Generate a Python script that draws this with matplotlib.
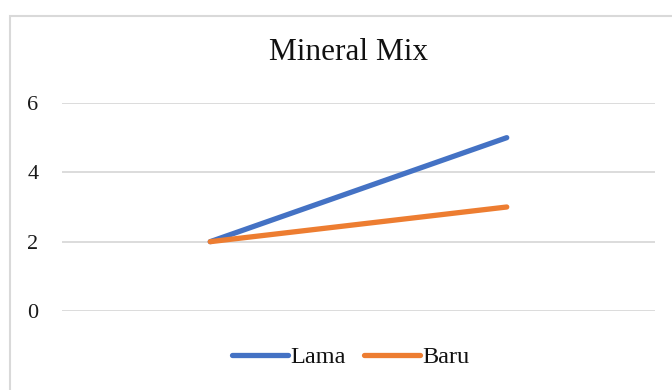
import matplotlib.pyplot as plt
import matplotlib.patches as patch

# series data
categories = ["1", "2"]
lama = [2, 5]
baru = [2, 3]
yticks = [0, 2, 4, 6]


def main():
    plt.rcParams['font.family'] = ['Liberation Serif', 'DejaVu Serif']
    W, H = 672, 390
    fig = plt.figure(figsize=(W / 100, H / 100), dpi=100)
    fig.patch.set_facecolor('white')

    # chart frame (left/top edges visible)
    frame = patch.Rectangle((10 / W, -0.1), 1.2, 1.1 - 16 / H,
                            transform=fig.transFigure, fill=False,
                            edgecolor='#d9d9d9', linewidth=1.5)
    fig.add_artist(frame)

    ax = fig.add_axes([62 / W, 1 - 311 / H, (655 - 62) / W, (311 - 103) / H])
    x = list(range(len(categories)))
    ax.plot(x, lama, color='#4472C4', linewidth=3.8,
            solid_capstyle='round', label='Lama', zorder=3)
    ax.plot(x, baru, color='#ED7D31', linewidth=3.8,
            solid_capstyle='round', label='Baru', zorder=3)

    ax.set_xlim(-0.5, len(categories) - 0.5)
    ax.set_ylim(0, 6)
    ax.set_yticks(yticks)
    ax.set_yticklabels([str(v) for v in yticks], fontsize=16)
    ax.set_xticks([])
    ax.tick_params(axis='y', length=0, pad=17, colors='#1a1a1a')
    ax.grid(axis='y', color='#d9d9d9', linewidth=1.3)
    ax.set_axisbelow(True)
    for s in ax.spines.values():
        s.set_visible(False)

    fig.text(348 / W, 1 - 53 / H, "Mineral Mix", ha='center', va='center',
             fontsize=22.5, color='#111111')

    leg = fig.legend(loc='center', bbox_to_anchor=(351 / W, 1 - 357 / H),
                     ncol=2, frameon=False, fontsize=17.5, handlelength=2.3,
                     handletextpad=0.1, columnspacing=0.75)
    for t in leg.get_texts():
        t.set_color('#111111')

    fig.savefig("out.png", dpi=100)


if __name__ == '__main__':
    main()
